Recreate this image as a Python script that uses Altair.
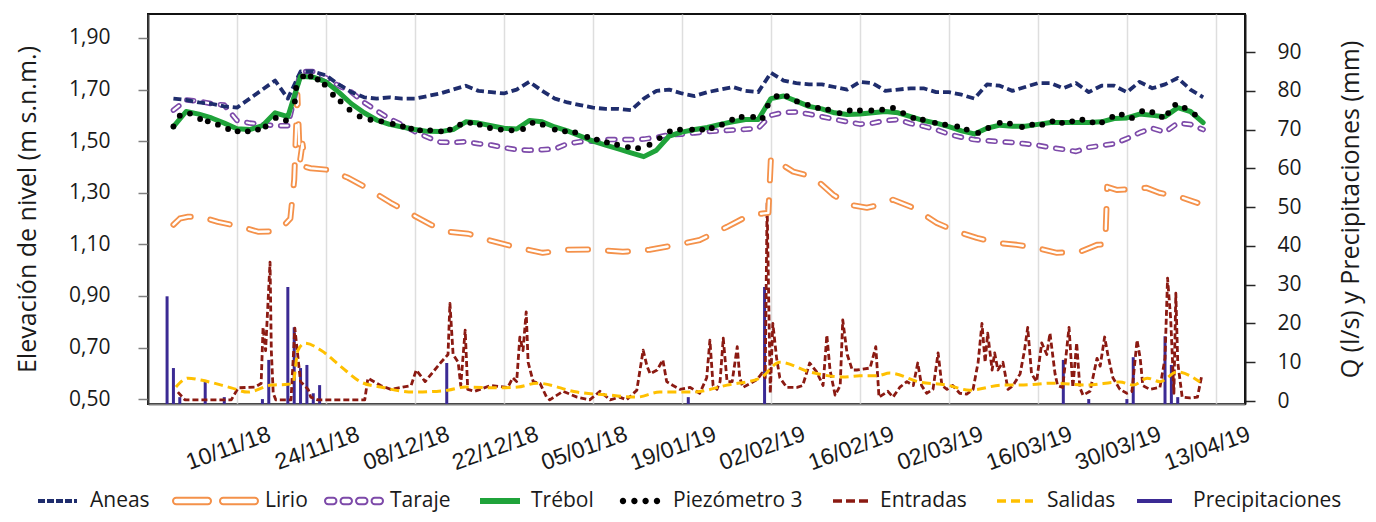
import math
import altair as alt
import pandas as pd

# ---------------------------------------------------------------- data
INICIO = "2018-10-31"  # day 0 of every series (t = days since this date)

# water level series (m s.n.m.), sampled every 2 days
T_NIVEL = list(range(0, 163, 2))
ANEAS = [1.665, 1.66, 1.65, 1.645, 1.635, 1.63, 1.665, 1.70, 1.735, 1.665,
         1.77, 1.77, 1.755, 1.72, 1.69, 1.67, 1.665, 1.67, 1.665, 1.665,
         1.675, 1.685, 1.70, 1.715, 1.695, 1.69, 1.685, 1.70, 1.73, 1.695,
         1.665, 1.65, 1.64, 1.63, 1.625, 1.625, 1.62, 1.665, 1.695, 1.70,
         1.685, 1.675, 1.69, 1.70, 1.71, 1.695, 1.69, 1.765, 1.735, 1.725,
         1.72, 1.72, 1.71, 1.70, 1.73, 1.725, 1.695, 1.70, 1.705, 1.705,
         1.69, 1.69, 1.68, 1.665, 1.72, 1.715, 1.695, 1.71, 1.725, 1.725,
         1.705, 1.725, 1.69, 1.715, 1.715, 1.69, 1.73, 1.705, 1.72, 1.745,
         1.70, 1.67]
TARAJE = [1.62, 1.66, 1.655, 1.645, 1.64, 1.58, 1.57, 1.565, 1.56, 1.56,
          1.77, 1.77, 1.745, 1.715, 1.69, 1.65, 1.618, 1.587, 1.563, 1.537,
          1.515, 1.496, 1.495, 1.498, 1.49, 1.485, 1.475, 1.467, 1.465, 1.467,
          1.47, 1.49, 1.498, 1.50, 1.506, 1.506, 1.506, 1.508, 1.515, 1.525,
          1.527, 1.532, 1.537, 1.54, 1.543, 1.546, 1.55, 1.60, 1.612, 1.613,
          1.605, 1.595, 1.585, 1.575, 1.566, 1.57, 1.58, 1.584, 1.568, 1.558,
          1.545, 1.527, 1.515, 1.506, 1.502, 1.498, 1.495, 1.49, 1.484, 1.475,
          1.468, 1.46, 1.476, 1.483, 1.49, 1.51, 1.533, 1.55, 1.535, 1.57,
          1.565, 1.545]
TREBOL = [1.556, 1.615, 1.605, 1.59, 1.57, 1.548, 1.545, 1.56, 1.61, 1.595,
          1.752, 1.748, 1.73, 1.69, 1.645, 1.61, 1.582, 1.565, 1.555, 1.545,
          1.538, 1.537, 1.545, 1.575, 1.57, 1.56, 1.55, 1.547, 1.58, 1.575,
          1.555, 1.54, 1.52, 1.50, 1.485, 1.47, 1.455, 1.44, 1.465, 1.52,
          1.535, 1.545, 1.553, 1.565, 1.575, 1.584, 1.584, 1.665, 1.675, 1.655,
          1.635, 1.625, 1.61, 1.603, 1.605, 1.61, 1.615, 1.61, 1.595, 1.58,
          1.57, 1.556, 1.54, 1.528, 1.55, 1.562, 1.558, 1.558, 1.565, 1.572,
          1.572, 1.572, 1.572, 1.575, 1.588, 1.59, 1.605, 1.60, 1.595, 1.63,
          1.615, 1.572]

T_PIEZO = [0.0, 1.0, 2.6, 4.2, 5.4, 7.0, 8.6, 10.1, 11.7, 13.3,
           14.5, 16.1, 17.7, 19.1, 19.3, 20.4, 21.6, 22.7, 23.8, 25.1,
           26.3, 27.7, 29.3, 31.0, 32.7, 34.5, 36.1, 37.4, 38.8, 40.4,
           42.1, 43.5, 45.1, 46.7, 48.2, 49.8, 51.5, 53.2, 55.0, 56.5,
           58.1, 60.0, 61.6, 63.2, 65.1, 66.6, 68.2, 69.8, 71.5, 73.1,
           74.9, 76.5, 78.1, 79.7, 81.6, 83.2, 84.7, 86.3, 87.9, 89.4,
           91.2, 92.7, 93.5, 94.9, 96.5, 98.1, 99.8, 101.4, 103.0, 104.8,
           106.4, 108.0, 109.8, 111.5, 113.2, 114.8, 116.4, 117.9, 119.8, 121.4,
           123.3, 124.8, 126.6, 128.2, 130.0, 131.6, 133.5, 135.1, 136.7, 138.3,
           139.8, 141.4, 143.0, 144.6, 146.1, 147.7, 149.2, 150.8, 152.4, 154.0,
           155.5, 156.5, 157.6, 159.1, 160.7]
PIEZO = [1.557, 1.599, 1.607, 1.586, 1.577, 1.564, 1.547, 1.538, 1.538, 1.545,
         1.557, 1.590, 1.580, 1.654, 1.706, 1.751, 1.751, 1.739, 1.719, 1.680,
         1.654, 1.622, 1.596, 1.583, 1.577, 1.567, 1.557, 1.548, 1.542, 1.542,
         1.538, 1.545, 1.564, 1.571, 1.564, 1.551, 1.545, 1.542, 1.547, 1.571,
         1.564, 1.545, 1.538, 1.534, 1.516, 1.506, 1.495, 1.486, 1.477, 1.473,
         1.486, 1.512, 1.538, 1.545, 1.545, 1.545, 1.551, 1.564, 1.583, 1.594,
         1.594, 1.590, 1.638, 1.674, 1.674, 1.654, 1.641, 1.629, 1.622, 1.609,
         1.619, 1.619, 1.619, 1.622, 1.629, 1.609, 1.590, 1.583, 1.571, 1.564,
         1.557, 1.545, 1.532, 1.551, 1.571, 1.568, 1.555, 1.564, 1.564, 1.577,
         1.571, 1.577, 1.583, 1.573, 1.573, 1.594, 1.603, 1.590, 1.616, 1.612,
         1.594, 1.609, 1.641, 1.629, 1.603]

T_LIRIO = [0.0, 1.0, 2.3, 4.3, 7.0, 10.6, 13.3, 15.2, 16.9, 18.4,
           19.0, 19.5, 19.9, 20.3, 20.8, 21.6, 24.3, 27.5, 30.1, 34.2,
           40.5, 43.2, 46.4, 49.5, 53.7, 58.1, 61.9, 66.0, 70.7, 74.9,
           79.2, 82.8, 87.1, 90.7, 93.6, 94.0, 97.5, 100.6, 103.8, 106.4,
           109.1, 111.1, 113.2, 116.4, 120.1, 123.3, 126.4, 129.6, 132.7, 135.8,
           139.0, 142.6, 145.3, 146.6, 146.9, 148.4, 151.5, 153.1, 155.1, 158.3,
           161.1]
LIRIO = [1.176, 1.200, 1.207, 1.207, 1.187, 1.168, 1.149, 1.150, 1.160, 1.200,
         1.350, 1.680, 1.420, 1.490, 1.400, 1.395, 1.389, 1.358, 1.323, 1.261,
         1.176, 1.149, 1.141, 1.117, 1.090, 1.067, 1.079, 1.080, 1.071, 1.079,
         1.098, 1.117, 1.168, 1.214, 1.222, 1.436, 1.382, 1.362, 1.292, 1.253,
         1.242, 1.253, 1.273, 1.242, 1.183, 1.149, 1.125, 1.106, 1.098, 1.086,
         1.067, 1.071, 1.098, 1.100, 1.323, 1.311, 1.315, 1.319, 1.300, 1.284,
         1.261]

# flows (l/s) and rain (mm), right axis
T_ENTRADAS = [0.7, 1.8, 9.1, 10.2, 12.8, 13.8, 14.1, 14.5, 15.2, 15.4,
              15.7, 16.1, 18.5, 19.1, 20.0, 21.2, 21.6, 22.7, 30.1, 30.6,
              32.6, 34.2, 37.4, 38.2, 39.6, 42.1, 43.2, 43.5, 44.0, 44.8,
              45.2, 45.9, 46.3, 47.4, 49.9, 52.6, 53.4, 54.0, 54.5, 55.0,
              55.5, 55.8, 56.6, 57.7, 58.7, 59.2, 61.3, 63.5, 65.5, 67.1,
              68.7, 70.2, 71.3, 72.9, 73.9, 74.5, 75.0, 76.1, 77.0, 77.6,
              78.6, 79.7, 81.3, 82.8, 83.9, 84.4, 84.9, 85.5, 86.0, 86.5,
              87.1, 87.9, 88.7, 89.1, 89.6, 90.7, 91.8, 92.6, 93.1, 93.4,
              93.9, 94.3, 94.9, 95.4, 96.5, 98.1, 99.0, 100.1, 101.2, 102.2,
              102.8, 103.3, 104.1, 104.9, 105.3, 106.0, 106.8, 107.5, 109.6, 110.5,
              111.0, 112.4, 113.2, 114.3, 115.4, 116.4, 117.1, 117.7, 118.5, 119.5,
              120.3, 120.9, 121.7, 122.6, 123.7, 124.8, 125.8, 126.6, 127.2, 127.7,
              128.1, 128.8, 129.2, 129.7, 130.5, 131.3, 132.1, 133.2, 133.9, 134.4,
              135.0, 135.8, 136.6, 137.4, 137.9, 138.7, 139.1, 139.9, 140.9, 141.5,
              142.1, 142.6, 143.1, 144.2, 145.3, 145.8, 146.5, 147.0, 147.8, 148.9,
              150.0, 150.8, 151.6, 152.1, 152.5, 153.6, 155.2, 156.0, 156.4, 156.9,
              157.4, 157.7, 158.0, 158.7, 159.9, 161.1, 161.8]
ENTRADAS = [2.3, 0.3, 0.3, 3.4, 3.6, 4.5, 19.0, 13.0, 35.8, 13.0,
            2.0, 0.3, 0.3, 18.8, 5.0, 3.0, 1.0, 0.3, 0.3, 5.9,
            4.0, 3.0, 4.0, 8.0, 5.0, 10.0, 12.0, 25.2, 12.0, 10.0,
            4.0, 18.3, 3.0, 2.5, 4.0, 3.5, 6.0, 5.0, 16.5, 13.0,
            23.0, 10.0, 5.0, 4.5, 1.0, 0.3, 2.5, 1.0, 0.3, 2.5,
            0.3, 1.0, 0.3, 2.8, 13.1, 9.0, 7.0, 8.0, 10.6, 5.0,
            4.0, 3.0, 3.5, 2.0, 6.0, 15.7, 4.0, 3.0, 5.0, 16.2,
            5.0, 5.0, 14.0, 6.0, 3.5, 4.5, 5.5, 7.2, 6.0, 51.0,
            2.0, 20.0, 11.0, 6.0, 3.5, 3.5, 4.0, 9.8, 7.5, 4.0,
            17.0, 8.0, 1.5, 4.0, 20.9, 12.0, 8.0, 8.0, 8.5, 14.0,
            1.0, 2.5, 1.0, 3.6, 5.0, 4.0, 9.8, 4.0, 2.0, 3.0,
            12.4, 4.0, 3.0, 4.0, 2.0, 1.8, 3.0, 10.0, 20.0, 10.0,
            17.5, 8.0, 12.4, 8.0, 10.0, 3.0, 4.0, 7.0, 13.1, 19.0,
            7.0, 5.0, 15.0, 12.0, 17.5, 7.0, 4.0, 3.5, 19.0, 3.5,
            15.0, 3.5, 1.5, 2.5, 11.0, 9.0, 16.5, 12.0, 6.0, 3.0,
            2.0, 2.5, 15.7, 11.0, 4.0, 3.0, 3.5, 11.0, 31.7, 21.0,
            2.0, 27.8, 10.0, 1.0, 0.8, 1.0, 6.7]

T_SALIDAS = [0.4, 2.3, 4.3, 9.1, 11.7, 15.4, 18.0, 18.8, 19.6, 20.7,
             23.2, 26.4, 29.5, 32.6, 38.0, 43.2, 45.9, 51.1, 54.2, 57.2,
             63.5, 68.7, 72.9, 76.5, 81.7, 87.1, 92.3, 95.4, 100.1, 105.3,
             108.0, 110.7, 112.7, 117.4, 121.7, 125.3, 130.5, 133.2, 138.4, 143.7,
             148.9, 151.0, 153.2, 155.2, 157.9, 161.5]
SALIDAS = [3.6, 5.9, 5.4, 3.4, 2.3, 4.1, 4.3, 4.6, 13.1, 14.9,
           13.1, 8.8, 4.9, 3.6, 2.3, 2.8, 3.6, 3.4, 3.6, 4.6,
           2.3, 1.5, 1.0, 2.3, 2.3, 4.1, 5.9, 10.0, 7.5, 6.2,
           6.5, 6.5, 7.2, 4.9, 4.1, 2.8, 4.1, 4.1, 4.6, 4.1,
           4.9, 4.1, 5.9, 5.0, 7.5, 4.9]

T_PRECIP = [-1, 0, 1, 5, 8, 14, 15, 18, 19, 20, 21, 22, 23, 43, 81, 93,
            140, 144, 150, 151, 156, 157, 158]
PRECIP = [27.0, 8.5, 1.0, 5.1, 1.0, 0.5, 10.6, 29.4, 19.0, 8.5, 9.3, 2.0, 4.1,
          9.8, 1.0, 29.4, 10.6, 0.5, 0.5, 11.3, 16.7, 9.3, 1.0]

# axes
X_TICK_FECHAS = ["2018-11-10", "2018-11-24", "2018-12-08", "2018-12-22",
                 "2019-01-05", "2019-01-19", "2019-02-02", "2019-02-16",
                 "2019-03-02", "2019-03-16", "2019-03-30", "2019-04-13"]
X_LABELS = ["10/11/18", "24/11/18", "08/12/18", "22/12/18", "05/01/18",
            "19/01/19", "02/02/19", "16/02/19", "02/03/19", "16/03/19",
            "30/03/19", "13/04/19"]
Y_IZQ_TICKS = [0.5, 0.7, 0.9, 1.1, 1.3, 1.5, 1.7, 1.9]
Y_DER_TICKS = [0, 10, 20, 30, 40, 50, 60, 70, 80, 90]
Y_IZQ_DOM = [0.481, 1.993]
Y_DER_DOM = [-0.77, 99.8]

# ---------------------------------------------------------------- helpers
t0 = pd.Timestamp(INICIO)


def tabla(ts, vs, serie):
    f = [(t0 + pd.Timedelta(days=float(t))).strftime("%Y-%m-%dT%H:%M:%S") for t in ts]
    return pd.DataFrame({"fecha": f, "valor": vs, "serie": serie})


def dt(s, hours=0):
    y, m, d = (int(p) for p in s.split("-"))
    return alt.DateTime(year=y, month=m, date=d, hours=hours)


W, H = 1097, 390
FONT = "Open Sans"
TXT = "#1a1a1a"

label_expr = "timeFormat(datum.value, '%d/%m/%y')"
for f, lab in zip(reversed(X_TICK_FECHAS), reversed(X_LABELS)):
    label_expr = f"timeFormat(datum.value, '%Y-%m-%d') == '{f}' ? '{lab}' : ({label_expr})"

x_enc = alt.X(
    "fecha:T", title=None,
    scale=alt.Scale(domain=[dt("2018-10-27"), dt("2019-04-17", 14)]),
    axis=alt.Axis(values=[dt(f) for f in X_TICK_FECHAS], labelExpr=label_expr,
                  labelAngle=340, labelAlign="center", labelBaseline="middle",
                  labelPadding=44, labelOffset=-9, ticks=False, tickSize=0,
                  grid=True, gridColor="#dedede", gridWidth=1.5,
                  domainColor="#808080", domainWidth=2,
                  labelFont="Liberation Sans", labelFontSize=23, labelColor=TXT,
                  labelOverlap=False, labelFlush=False),
)

y_izq = alt.Y(
    "valor:Q", title="Elevación de nivel (m s.n.m.)",
    scale=alt.Scale(domain=Y_IZQ_DOM, nice=False, zero=False),
    axis=alt.Axis(orient="left", values=Y_IZQ_TICKS,
                  labelExpr="replace(format(datum.value, '.2f'), '.', ',')",
                  grid=False, tickSize=10, tickColor="#808080", tickWidth=1.5,
                  domainColor="#404040", domainWidth=2, labelPadding=28,
                  labelFont=FONT, labelFontSize=21, labelColor=TXT,
                  titleFont=FONT, titleFontSize=25, titleFontWeight="normal",
                  titleColor=TXT, titleAngle=270, titleBaseline="middle",
                  titleAlign="center", titleX=-121, titleY=H / 2),
)

y_der = alt.Y(
    "valor:Q", title="Q (l/s) y Precipitaciones (mm)",
    scale=alt.Scale(domain=Y_DER_DOM, nice=False, zero=False),
    axis=alt.Axis(orient="right", values=Y_DER_TICKS, format="d",
                  grid=False, tickSize=10, tickColor="#262626", tickWidth=1.5,
                  domainColor="#1a1a1a", domainWidth=2, labelPadding=22,
                  labelFont=FONT, labelFontSize=21, labelColor=TXT,
                  titleFont=FONT, titleFontSize=25, titleFontWeight="normal",
                  titleColor=TXT, titleAngle=270, titleBaseline="middle",
                  titleAlign="center", titleX=105, titleY=H / 2),
)


def capsulas(intervalos, r):
    out = []
    for a, b in intervalos:
        a2, b2 = a + r, b - r
        out.append(f"M{a2:.3f},{-r:.3f}L{b2:.3f},{-r:.3f}"
                   f"A{r:.3f},{r:.3f} 0 0 1 {b2:.3f},{r:.3f}"
                   f"L{a2:.3f},{r:.3f}A{r:.3f},{r:.3f} 0 0 1 {a2:.3f},{-r:.3f}Z")
    return "".join(out)


def puntos(centros, r):
    return "".join(f"M{c - r:.3f},0A{r:.3f},{r:.3f} 0 1 0 {c + r:.3f},0"
                   f"A{r:.3f},{r:.3f} 0 1 0 {c - r:.3f},0Z" for c in centros)


PATH_LIRIO = capsulas([(-1.0, -0.105), (0.105, 1.0)], 0.075)
PATH_TARAJE = capsulas([(-1.0, -0.605), (-0.465, -0.07), (0.07, 0.465), (0.605, 1.0)], 0.11)
PATH_PIEZO = puntos([-0.85, -0.28, 0.28, 0.85], 0.16)

LEY_CENTRO = 487


def leyenda(x, off, width, sw, stype, dash=None):
    size = width ** 2
    alto = max(math.ceil(width + sw), 21)
    kw = dict(title=None, orient="none", legendX=x, legendY=LEY_CENTRO - alto / 2,
              labelOffset=off, labelFont=FONT, labelFontSize=21, labelColor=TXT,
              padding=0, symbolType=stype, symbolSize=size, symbolStrokeWidth=sw)
    if dash:
        kw["symbolDash"] = dash
    return alt.Legend(**kw)


def color(nombre, col, ley):
    return alt.Color("serie:N", scale=alt.Scale(domain=[nombre], range=[col]), legend=ley)


C_ANEAS, C_LIRIO, C_TARAJE, C_TREBOL = "#1f2d6d", "#f4914a", "#7d4aa9", "#1fa33a"
C_PIEZO, C_ENTR, C_SAL, C_PREC = "#000000", "#8b1a12", "#ffc000", "#3b2a94"

# ---------------------------------------------------------------- layers
d_aneas = tabla(T_NIVEL, ANEAS, "Aneas")
d_lirio = tabla(T_LIRIO, LIRIO, "Lirio")
d_taraje = tabla(T_NIVEL, TARAJE, "Taraje")
d_trebol = tabla(T_NIVEL, TREBOL, "Trébol")
d_piezo = tabla(T_PIEZO, PIEZO, "Piezómetro 3")
d_entr = tabla(T_ENTRADAS, ENTRADAS, "Entradas")
d_sal = tabla(T_SALIDAS, SALIDAS, "Salidas")
d_prec = tabla(T_PRECIP, PRECIP, "Precipitaciones")

precip = alt.Chart(d_prec).mark_rule().encode(
    x=x_enc, y=y_der, y2=alt.datum(Y_DER_DOM[0]),
    color=color("Precipitaciones", C_PREC, leyenda(987, 19, 35, 4, "stroke")),
    strokeWidth=alt.value(3))
entradas = alt.Chart(d_entr).mark_line(strokeJoin="round").encode(
    x=x_enc, y=y_der,
    color=color("Entradas", C_ENTR, leyenda(683, 8, 37, 3.5, "stroke", [9, 4])),
    strokeWidth=alt.value(2.8), strokeDash=alt.value([6, 3]))
salidas = alt.Chart(d_sal).mark_line(interpolate="monotone").encode(
    x=x_enc, y=y_der,
    color=color("Salidas", C_SAL, leyenda(847, 12, 36, 3.5, "stroke", [9, 5])),
    strokeWidth=alt.value(3), strokeDash=alt.value([9, 5]))

grupo_der = alt.layer(precip, entradas, salidas).resolve_scale(color="independent")

lirio_out = alt.Chart(d_lirio).mark_line(strokeCap="round", strokeJoin="round").encode(
    x=x_enc, y=y_izq,
    color=color("Lirio", C_LIRIO, leyenda(24, 6, 85, 2, PATH_LIRIO)),
    strokeWidth=alt.value(6), strokeDash=alt.value([20, 20]))
lirio_in = alt.Chart(d_lirio).mark_line(strokeCap="round", strokeJoin="round", color="white").encode(
    x=x_enc, y=y_izq, strokeWidth=alt.value(2.4), strokeDash=alt.value([20, 20]))
taraje_out = alt.Chart(d_taraje).mark_line(strokeCap="round", strokeJoin="round").encode(
    x=x_enc, y=y_izq,
    color=color("Taraje", C_TARAJE, leyenda(176, 6, 58, 2, PATH_TARAJE)),
    strokeWidth=alt.value(5.5), strokeDash=alt.value([7, 10]))
taraje_in = alt.Chart(d_taraje).mark_line(strokeCap="round", strokeJoin="round", color="white").encode(
    x=x_enc, y=y_izq, strokeWidth=alt.value(2.2), strokeDash=alt.value([7, 10]))
aneas = alt.Chart(d_aneas).mark_line(strokeJoin="round").encode(
    x=x_enc, y=y_izq,
    color=color("Aneas", C_ANEAS, leyenda(-112, 11, 39, 4, "stroke", [7, 2])),
    strokeWidth=alt.value(3.8), strokeDash=alt.value([8, 4]))
trebol = alt.Chart(d_trebol).mark_line(strokeCap="round", strokeJoin="round").encode(
    x=x_enc, y=y_izq,
    color=color("Trébol", C_TREBOL, leyenda(329, 8, 40, 6, "stroke")),
    strokeWidth=alt.value(5))
piezo = alt.Chart(d_piezo).mark_circle(size=34, opacity=1).encode(
    x=x_enc, y=y_izq,
    color=color("Piezómetro 3", C_PIEZO, leyenda(472, 13, 40, 0, PATH_PIEZO)))

grupo_izq = alt.layer(lirio_out, lirio_in, taraje_out, taraje_in, aneas, trebol, piezo
                      ).resolve_scale(color="independent")

chart = alt.layer(grupo_der, grupo_izq).resolve_scale(
    y="independent", color="independent"
).properties(
    width=W, height=H,
    autosize=alt.AutoSizeParams(type="none"),
    padding={"left": 140, "top": 6, "right": 123, "bottom": 110},
    background="white",
).configure_view(stroke="#111111", strokeWidth=2)

chart.save("out.html", embed_options={"renderer": "svg", "actions": False})
